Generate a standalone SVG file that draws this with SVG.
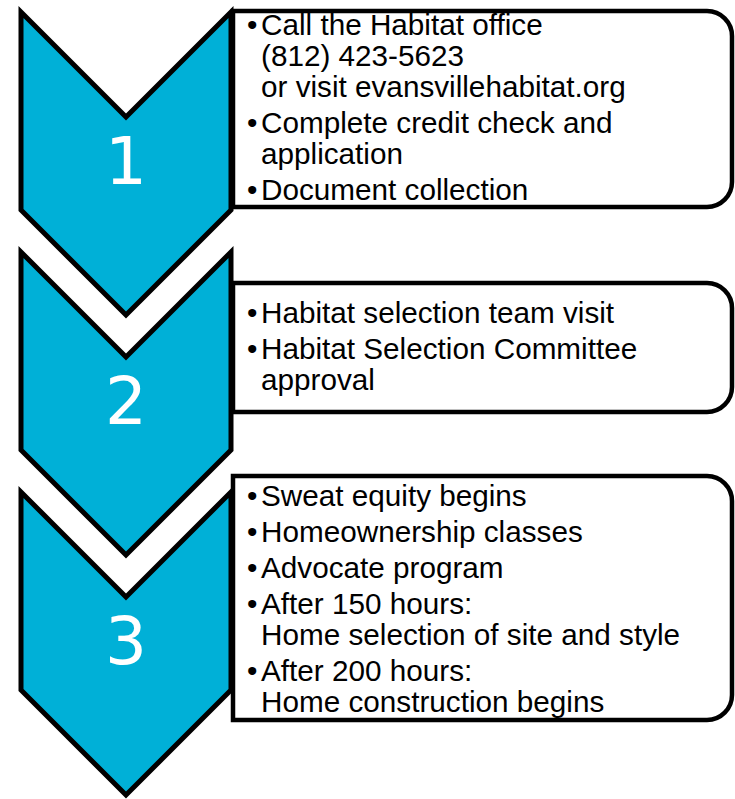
<svg xmlns="http://www.w3.org/2000/svg" width="735" height="799" viewBox="0 0 735 799">
  <style>
    .chevron { fill: #00B0D7; stroke: #000; stroke-width: 5; stroke-linejoin: miter; stroke-miterlimit: 6; }
    .box { fill: #fff; stroke: #000; stroke-width: 4.5; stroke-linejoin: miter; }
    .num { font-family: "DejaVu Sans", "Noto Sans", sans-serif; font-size: 66px; fill: #fff; text-anchor: middle; }
    .txt { font-family: "Liberation Sans", Arial, sans-serif; font-size: 29.7px; fill: #000; }
  </style>
  <defs>
    <polygon id="chev" points="21,12 126,117 231,12 231,210 126,315 21,210"/>
  </defs>

  <!-- step 1 -->
  <g id="step1">
    <use href="#chev" class="chevron"/>
    <text class="num" x="126" y="184">1</text>
  </g>
  <g id="step1-details">
    <path class="box" d="M233,11 H707 A25,25 0 0 1 732,36 V182 A25,25 0 0 1 707,207 H233 Z"/>
    <text class="txt" x="247" y="35">•</text>
    <text class="txt" x="261" y="35">Call the Habitat office</text>
    <text class="txt" x="261" y="66">(812) 423-5623</text>
    <text class="txt" x="261" y="97">or visit evansvillehabitat.org</text>
    <text class="txt" x="247" y="133">•</text>
    <text class="txt" x="261" y="133">Complete credit check and</text>
    <text class="txt" x="261" y="164">application</text>
    <text class="txt" x="247" y="200">•</text>
    <text class="txt" x="261" y="200">Document collection</text>
  </g>

  <!-- step 2 -->
  <g id="step2">
    <use href="#chev" class="chevron" y="240"/>
    <text class="num" x="126" y="424">2</text>
  </g>
  <g id="step2-details">
    <path class="box" d="M233,283 H707 A25,25 0 0 1 732,308 V387 A25,25 0 0 1 707,412 H233 Z"/>
    <text class="txt" x="247" y="323">•</text>
    <text class="txt" x="261" y="323">Habitat selection team visit</text>
    <text class="txt" x="247" y="359">•</text>
    <text class="txt" x="261" y="359">Habitat Selection Committee</text>
    <text class="txt" x="261" y="390">approval</text>
  </g>

  <!-- step 3 -->
  <g id="step3">
    <use href="#chev" class="chevron" y="480"/>
    <text class="num" x="126" y="664">3</text>
  </g>
  <g id="step3-details">
    <path class="box" d="M233,476 H707 A25,25 0 0 1 732,501 V695 A25,25 0 0 1 707,720 H233 Z"/>
    <text class="txt" x="247" y="506">•</text>
    <text class="txt" x="261" y="506">Sweat equity begins</text>
    <text class="txt" x="247" y="542">•</text>
    <text class="txt" x="261" y="542">Homeownership classes</text>
    <text class="txt" x="247" y="578">•</text>
    <text class="txt" x="261" y="578">Advocate program</text>
    <text class="txt" x="247" y="614">•</text>
    <text class="txt" x="261" y="614">After 150 hours:</text>
    <text class="txt" x="261" y="645">Home selection of site and style</text>
    <text class="txt" x="247" y="681">•</text>
    <text class="txt" x="261" y="681">After 200 hours:</text>
    <text class="txt" x="261" y="712">Home construction begins</text>
  </g>

  <g id="connectors"/>
</svg>
